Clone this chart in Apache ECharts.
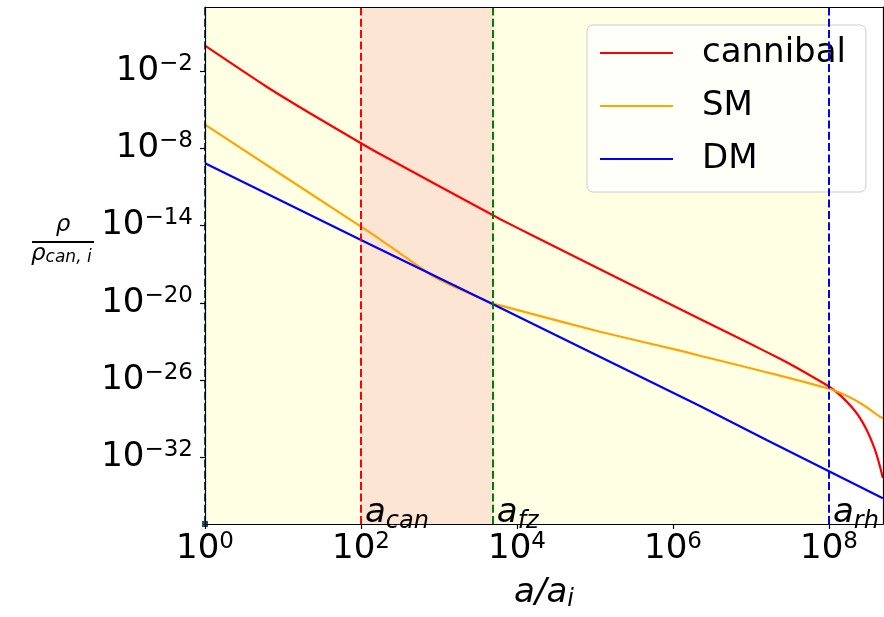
<!DOCTYPE html>
<html>
<head>
<meta charset="utf-8">
<script src="https://cdn.jsdelivr.net/npm/echarts@6/dist/echarts.min.js"></script>
<style>
    html, body { margin: 0; padding: 0; background: #fff; }
    #chart { width: 884px; height: 617px; }
</style>
</head>
<body>
<div id="chart"></div>
<script>
// values are log10(a/a_i) and log10(rho/rho_can,i)
var cannibalX = [0, 0.79, 1.346, 2.0, 2.244, 3.705, 3.78, 4.167, 6.346, 6.945, 7.372, 7.586, 8.013, 8.163, 8.355, 8.483, 8.59, 8.654, 8.69];
var cannibalY = [-0.03, -3.22, -5.28, -7.61, -8.45, -13.24, -13.49, -14.68, -21.26, -23.05, -24.35, -25.05, -26.56, -27.29, -28.58, -29.88, -31.43, -32.73, -33.6];

var smX = [0, 2.0, 2.244, 2.5, 2.927, 3.141, 3.705, 3.782, 4.167, 5.064, 6.09, 6.346, 6.945, 7.372, 8.013, 8.227, 8.44, 8.654, 8.69];
var smY = [-6.17, -14.09, -15.07, -16.16, -17.95, -18.6, -20.1, -20.2, -20.82, -22.25, -23.72, -24.11, -25.01, -25.66, -26.7, -27.22, -27.94, -28.85, -28.95];

var dmX = [0, 2.0, 3.705, 6.346, 7.2, 8.69];
var dmY = [-9.17, -15.12, -20.15, -28.01, -30.66, -35.18];

var xTicks = [0, 2, 4, 6, 8];
var yTicks = [-32, -26, -20, -14, -8, -2];
var xRange = [0, 8.692];
var yRange = [-37.18, 2.97];

// vertical dashed lines: a_can, a_fz, a_rh
var markerNames = ['can', 'fz', 'rh'];
var markerX = [2, 3.69, 8];
var markerColors = ['#ff0000', '#008000', '#0000ff'];

// shaded bands
var yellowBand = [0, 8];
var peachBand = [2, 3.69];

var mathFont = 'DejaVu Sans';

function zip(xs, ys) {
    return xs.map(function (x, i) { return [x, ys[i]]; });
}

function powLabel(v) {
    var e = v < 0 ? '\u2212' + (-v) : '' + v;
    return '{b|10}{s|' + e + '}';
}

var powRich = {
    b: { fontSize: 34, fontFamily: mathFont, color: '#000', lineHeight: 34 },
    s: { fontSize: 23, fontFamily: mathFont, color: '#000', lineHeight: 23, padding: [0, 0, 14, 0] }
};

var axisLine = { show: true, onZero: false, lineStyle: { color: '#000', width: 1.2 } };

var chart = echarts.init(document.getElementById('chart'));

chart.setOption({
    animation: false,
    backgroundColor: '#fff',
    grid: { left: 205, right: 1, top: 7, bottom: 93 },
    legend: {
        data: ['cannibal', 'SM', 'DM'],
        orient: 'vertical',
        left: 587,
        top: 25,
        icon: 'rect',
        itemWidth: 73,
        itemHeight: 2,
        itemGap: 13,
        padding: [8, 20, 13, 13],
        selectedMode: false,
        backgroundColor: 'rgba(255,255,255,0.8)',
        borderColor: '#cccccc',
        borderWidth: 1,
        borderRadius: 6,
        textStyle: { fontSize: 34, fontFamily: mathFont, color: '#000', lineHeight: 40, padding: [0, 0, 0, 24] }
    },
    xAxis: [{
        type: 'value',
        min: xRange[0],
        max: xRange[1],
        z: 10,
        axisLine: axisLine,
        axisTick: { show: true, inside: false, length: 5, customValues: xTicks, lineStyle: { color: '#000', width: 1.2 } },
        axisLabel: { customValues: xTicks, formatter: powLabel, rich: powRich, margin: 8 },
        splitLine: { show: false },
        name: '{n|a/a}{i|i}',
        nameLocation: 'middle',
        nameGap: 52,
        nameTextStyle: {
            rich: {
                n: { fontSize: 34, fontStyle: 'italic', fontFamily: mathFont, color: '#000', lineHeight: 34 },
                i: { fontSize: 24, fontStyle: 'italic', fontFamily: mathFont, color: '#000', lineHeight: 24, padding: [14, 0, 0, 0] }
            }
        }
    }, {
        type: 'value',
        position: 'top',
        min: xRange[0],
        max: xRange[1],
        z: 10,
        axisLine: axisLine,
        axisTick: { show: false },
        axisLabel: { show: false },
        splitLine: { show: false }
    }],
    yAxis: [{
        type: 'value',
        min: yRange[0],
        max: yRange[1],
        z: 10,
        axisLine: axisLine,
        axisTick: { show: true, inside: false, length: 5, customValues: yTicks, lineStyle: { color: '#000', width: 1.2 } },
        axisLabel: { customValues: yTicks, formatter: powLabel, rich: powRich, margin: 12 },
        splitLine: { show: false }
    }, {
        type: 'value',
        position: 'right',
        min: yRange[0],
        max: yRange[1],
        z: 10,
        axisLine: axisLine,
        axisTick: { show: false },
        axisLabel: { show: false },
        splitLine: { show: false }
    }],
    graphic: [
        {
            type: 'text', x: 63, y: 225, z: 100,
            style: { text: '\u03c1', font: 'italic 23px "DejaVu Sans"', fill: '#000', align: 'center', verticalAlign: 'middle' }
        },
        {
            type: 'rect', z: 100,
            shape: { x: 32, y: 241, width: 62, height: 2 },
            style: { fill: '#000' }
        },
        {
            type: 'text', x: 31, y: 254, z: 100,
            style: {
                text: '{r|\u03c1}{s|can, i}',
                align: 'left',
                verticalAlign: 'middle',
                rich: {
                    r: { fontSize: 23, fontStyle: 'italic', fontFamily: mathFont, fill: '#000', lineHeight: 23 },
                    s: { fontSize: 17, fontStyle: 'italic', fontFamily: mathFont, fill: '#000', lineHeight: 17, padding: [8, 0, 0, 0] }
                }
            }
        }
    ],
    series: [
        {
            // shaded bands, dashed markers and their labels
            name: 'markers',
            type: 'scatter',
            silent: true,
            symbolSize: 0,
            data: markerX.map(function (x) { return [x, yRange[0]]; }),
            label: {
                show: true,
                position: [4, 6],
                align: 'left',
                verticalAlign: 'bottom',
                color: '#000',
                opacity: 1,
                formatter: function (p) { return '{a|a}{s|' + markerNames[p.dataIndex] + '}'; },
                rich: {
                    a: { fontSize: 34, fontStyle: 'italic', fontFamily: mathFont, color: '#000', lineHeight: 34 },
                    s: { fontSize: 24, fontStyle: 'italic', fontFamily: mathFont, color: '#000', lineHeight: 24, padding: [18, 0, 0, 0] }
                }
            },
            markArea: {
                silent: true,
                data: [
                    [{ xAxis: yellowBand[0], itemStyle: { color: '#ffffe3' } }, { xAxis: yellowBand[1] }],
                    [{ xAxis: peachBand[0], itemStyle: { color: '#fde5d3' } }, { xAxis: peachBand[1] }]
                ]
            },
            markLine: {
                silent: true,
                symbol: 'none',
                label: { show: false },
                data: markerX.map(function (x, i) {
                    return { xAxis: x, lineStyle: { color: markerColors[i], type: [8, 3.3], width: 2 } };
                }).concat([{
                    xAxis: 0,
                    symbol: ['triangle', 'triangle'],
                    symbolSize: 6,
                    lineStyle: { color: '#1f4e79', type: [8, 3.3], width: 2 }
                }])
            }
        },
        {
            name: 'cannibal',
            type: 'line',
            data: zip(cannibalX, cannibalY),
            showSymbol: false,
            symbol: 'none',
            smooth: 0.2,
            color: '#ff0000',
            lineStyle: { width: 2.2, color: '#ff0000' }
        },
        {
            name: 'SM',
            type: 'line',
            data: zip(smX, smY),
            showSymbol: false,
            symbol: 'none',
            smooth: 0.2,
            color: '#ffa500',
            lineStyle: { width: 2.2, color: '#ffa500' }
        },
        {
            name: 'DM',
            type: 'line',
            data: zip(dmX, dmY),
            showSymbol: false,
            symbol: 'none',
            color: '#0000ff',
            lineStyle: { width: 2.2, color: '#0000ff' }
        }
    ]
});
</script>
</body>
</html>
